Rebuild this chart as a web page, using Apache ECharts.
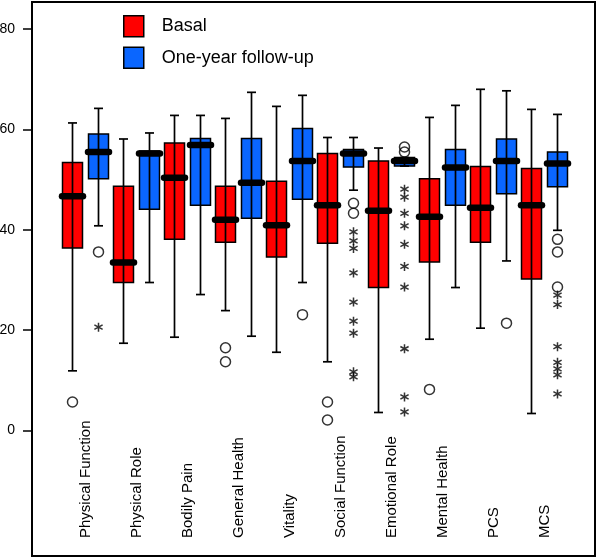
<!DOCTYPE html>
<html>
<head>
<meta charset="utf-8">
<script src="https://cdn.jsdelivr.net/npm/echarts@6/dist/echarts.min.js"></script>
<style>html,body{margin:0;padding:0;background:#fff}#chart{width:600px;height:560px}</style>
</head>
<body>
<div id="chart"></div>
<script>
// ---- data ----
const categories = ['Physical Function', 'Physical Role', 'Bodily Pain', 'General Health', 'Vitality',
  'Social Function', 'Emotional Role', 'Mental Health', 'PCS', 'MCS'];
const seriesNames = ['Basal', 'One-year follow-up'];
// [lower whisker, Q1, median, Q3, upper whisker]
const basalBoxes = [
  [11.9, 36.4, 46.7, 53.4, 61.3],
  [17.4, 29.5, 33.5, 48.7, 58.1],
  [18.6, 38.1, 50.4, 57.3, 62.8],
  [23.9, 37.5, 42.0, 48.7, 62.2],
  [15.6, 34.6, 40.9, 49.7, 64.6],
  [13.7, 37.3, 44.9, 55.2, 58.4],
  [3.6, 28.5, 43.8, 53.7, 56.3],
  [18.2, 33.6, 42.6, 50.2, 62.4],
  [20.4, 37.5, 44.4, 52.6, 68.0],
  [3.4, 30.2, 44.9, 52.2, 64.0]
];
const followBoxes = [
  [40.8, 50.2, 55.5, 59.1, 64.2],
  [29.5, 44.1, 55.2, 55.7, 59.3],
  [27.1, 44.9, 56.9, 58.2, 62.8],
  [18.8, 42.3, 49.4, 58.2, 67.4],
  [29.5, 46.1, 53.7, 60.2, 66.8],
  [47.9, 52.5, 55.2, 56.0, 58.4],
  [52.7, 52.7, 53.7, 54.4, 54.4],
  [28.5, 44.9, 52.4, 56.0, 64.8],
  [33.8, 47.2, 53.7, 58.1, 67.7],
  [39.9, 48.6, 53.2, 55.5, 63.0]
];
// outliers: [category index, value]
const basalCircles = [[0, 5.7], [3, 16.5], [3, 13.7], [5, 5.7], [5, 2.1], [7, 8.2]];
const followCircles = [[0, 35.6], [4, 23.1], [5, 45.3], [5, 43.3], [6, 56.5], [6, 55.5],
  [8, 21.4], [9, 38.1], [9, 35.6], [9, 28.6]];
const followStars = [[0, 20.6],
  [5, 39.6], [5, 37.8], [5, 36.3], [5, 31.4], [5, 25.6], [5, 21.8], [5, 19.4], [5, 11.7], [5, 10.7],
  [6, 48.1], [6, 46.5], [6, 43.3], [6, 40.8], [6, 37.1], [6, 32.7], [6, 28.6], [6, 16.3], [6, 6.7], [6, 3.7],
  [9, 27.0], [9, 25.1], [9, 16.7], [9, 13.6], [9, 12.3], [9, 11.1], [9, 7.3]];
const yTicks = [0, 20, 40, 60, 80];

// ---- style ----
const RED = '#ff0000';
const BLUE = '#0a66ff';
const FONT = '"Liberation Sans", Arial, Helvetica, sans-serif';
const BOX_OFFSET = 13;   // px from category centre
const BOX_W = 20, CAP_W = 9, MED_W = 21;
const STAR = 'path://M-1.6,-10L1.6,-10L1.6,10L-1.6,10Z M7.86,-6.39L9.46,-3.61L-7.86,6.39L-9.46,3.61Z M-9.46,-3.61L-7.86,-6.39L9.46,3.61L7.86,6.39Z';

function boxRows(boxes) { return boxes.map((b, i) => [i].concat(b)); }

function makeRender(side, color) {
  return function (params, api) {
    const i = api.value(0);
    const cx = api.coord([i, 0])[0] + side * BOX_OFFSET;
    const y = k => api.coord([i, api.value(k)])[1];
    const yMin = y(1), yQ1 = y(2), yMed = y(3), yQ3 = y(4), yMax = y(5);
    const ls = { stroke: '#000', lineWidth: 1.7 };
    return {
      type: 'group',
      children: [
        { type: 'rect', shape: { x: cx - BOX_W / 2, y: yQ3, width: BOX_W, height: yQ1 - yQ3 },
          style: { fill: color, stroke: '#000', lineWidth: 1.5 } },
        { type: 'line', shape: { x1: cx, y1: yMax, x2: cx, y2: yMin }, style: ls },
        { type: 'line', shape: { x1: cx - CAP_W / 2, y1: yMax, x2: cx + CAP_W / 2, y2: yMax }, style: ls },
        { type: 'line', shape: { x1: cx - CAP_W / 2, y1: yMin, x2: cx + CAP_W / 2, y2: yMin }, style: ls },
        { type: 'line', shape: { x1: cx - MED_W / 2, y1: yMed, x2: cx + MED_W / 2, y2: yMed },
          style: { stroke: '#000', lineWidth: 6.5, lineCap: 'round' } }
      ]
    };
  };
}

const chart = echarts.init(document.getElementById('chart'), null, { renderer: 'canvas' });
chart.setOption({
  animation: false,
  backgroundColor: '#fff',
  textStyle: { fontFamily: FONT },
  grid: { left: 60, right: 30, top: 3, bottom: 4, containLabel: false, outerBoundsMode: 'none' },
  legend: {
    data: seriesNames,
    orient: 'vertical', left: 118, top: 10,
    itemWidth: 20, itemHeight: 21, itemGap: 9,
    icon: 'rect', selectedMode: false,
    itemStyle: { borderColor: '#000', borderWidth: 1.5 },
    textStyle: { fontSize: 18, color: '#000', fontFamily: FONT, padding: [0, 0, 0, 13] }
  },
  xAxis: {
    type: 'category', data: categories,
    axisLine: { show: false }, axisTick: { show: false }, splitLine: { show: false },
    axisLabel: { inside: true, rotate: 90, margin: 18, interval: 0, fontSize: 15, color: '#000', fontFamily: FONT }
  },
  yAxis: {
    type: 'value', min: -25, max: 85.2, offset: 27,
    splitLine: { show: false },
    axisLine: { show: false },
    axisTick: { show: true, length: 10, customValues: yTicks, lineStyle: { color: '#000', width: 1.5 } },
    axisLabel: { customValues: yTicks, margin: 18, fontSize: 14, color: '#000', fontFamily: FONT }
  },
  graphic: [{
    type: 'rect', z: 100, silent: true,
    shape: { x: 32, y: 2, width: 563, height: 554 },
    style: { fill: 'none', stroke: '#000', lineWidth: 2 }
  }],
  series: [
    { name: seriesNames[0], type: 'custom', data: boxRows(basalBoxes), itemStyle: { color: RED },
      encode: { x: 0, y: [1, 2, 3, 4, 5] }, renderItem: makeRender(-1, RED), z: 2 },
    { name: seriesNames[1], type: 'custom', data: boxRows(followBoxes), itemStyle: { color: BLUE },
      encode: { x: 0, y: [1, 2, 3, 4, 5] }, renderItem: makeRender(1, BLUE), z: 2 },
    { name: 'Basal outliers', type: 'scatter', data: basalCircles, symbol: 'circle', symbolSize: 10,
      symbolOffset: [-BOX_OFFSET, 0], itemStyle: { color: 'none', borderColor: '#000', borderWidth: 1.5 }, z: 3 },
    { name: 'Follow-up outliers', type: 'scatter', data: followCircles, symbol: 'circle', symbolSize: 10,
      symbolOffset: [BOX_OFFSET, 0], itemStyle: { color: 'none', borderColor: '#000', borderWidth: 1.5 }, z: 3 },
    { name: 'Follow-up extremes', type: 'scatter', data: followStars, symbol: STAR, symbolSize: 9,
      symbolOffset: [BOX_OFFSET, 0], itemStyle: { color: '#000' }, z: 3 }
  ]
});
</script>
</body>
</html>
